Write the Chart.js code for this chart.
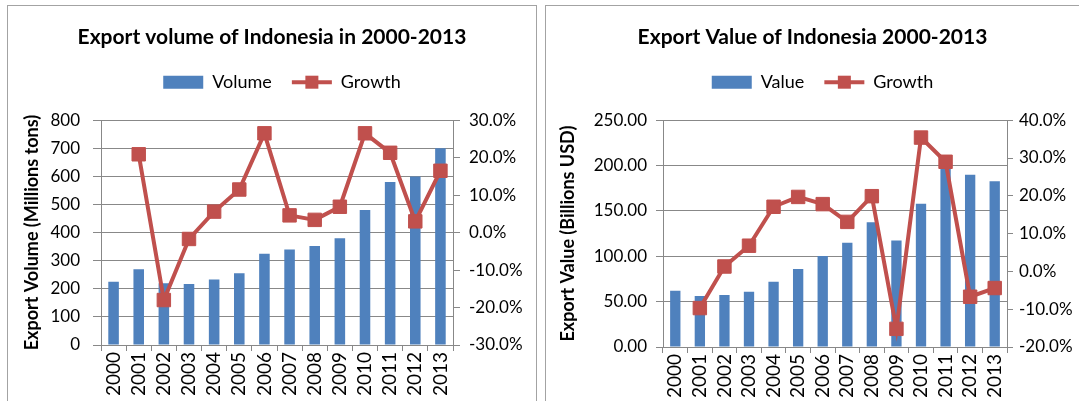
<!DOCTYPE html>
<html>
<head>
<meta charset="utf-8">
<script src="https://cdn.jsdelivr.net/npm/chart.js@4.4.1/dist/chart.umd.min.js"></script>
<style>
  body { margin: 0; background: #fff; overflow: hidden; }
  .panel {
    position: absolute;
    top: 5px;
    height: 420px;
    border: 1px solid #a3a3a3;
    border-bottom: none;
  }
  #leftPanel { left: 7px; width: 528px; }
  #rightPanel { left: 545px; width: 560px; border-right: none; }
  canvas { position: absolute; left: 0; top: 0; }
</style>
</head>
<body>
<div class="panel" id="leftPanel"><canvas id="volumeChart" width="528" height="395"></canvas></div>
<div class="panel" id="rightPanel"><canvas id="valueChart" width="533" height="395"></canvas></div>

<script>
// Data
const years = ["2000", "2001", "2002", "2003", "2004", "2005", "2006",
  "2007", "2008", "2009", "2010", "2011", "2012", "2013"];

// Export volume, millions of tons
const volume = [225, 270, 220, 217, 233, 255, 325, 340, 352, 380, 480, 580, 600, 700];
// Volume growth, percent
const volumeGrowth = [null, 20.9, -18.0, -1.7, 5.6, 11.5, 26.5, 4.6, 3.4, 6.9, 26.5, 21.3, 3.0, 16.5];

// Export value, billions USD
const exportValue = [62.1, 56.3, 57.4, 60.9, 71.9, 86.0, 100.3, 115.0, 137.5, 117.3, 158.0, 203.0, 190.0, 182.6];
// Value growth, percent
const valueGrowth = [null, -9.7, 1.3, 6.8, 17.1, 19.7, 17.8, 13.1, 19.9, -15.2, 35.4, 29.0, -6.7, -4.4];

const BAR_COLOR = "#4F81BD";
const LINE_COLOR = "#C0504D";
const GRID_COLOR = "#888888";

Chart.defaults.font.family = "Lato, 'Open Sans', sans-serif";
Chart.defaults.color = "#000";

// make room under the legend like the Excel plot area,
// and center the legend row without the trailing padding
const legendSpace = {
  id: "legendSpace",
  afterInit(chart, args, opts) {
    const fit = chart.legend.fit;
    chart.legend.fit = function () {
      fit.call(this);
      const pad = this.options.labels.padding;
      this.lineWidths = this.lineWidths.map((w) => w - pad);
      this.height += opts.extra || 0;
    };
  },
};

// draw the line + square marker for the "Growth" legend item
const lineLegend = {
  id: "lineLegend",
  afterDraw(chart) {
    const legend = chart.legend;
    if (!legend || !legend.legendHitBoxes) return;
    const box = legend.legendHitBoxes[1];
    const bw = legend.options.labels.boxWidth;
    const cy = box.top + box.height / 2;
    const ctx = chart.ctx;
    ctx.save();
    ctx.strokeStyle = LINE_COLOR;
    ctx.fillStyle = LINE_COLOR;
    ctx.lineWidth = 4;
    ctx.beginPath();
    ctx.moveTo(box.left, cy);
    ctx.lineTo(box.left + bw, cy);
    ctx.stroke();
    ctx.fillRect(box.left + bw / 2 - 6.5, cy - 6.5, 13, 13);
    ctx.restore();
  },
};

const buildChart = (id, cfg) => {
  return new Chart(document.getElementById(id), {
    type: "bar",
    data: {
      labels: years,
      datasets: [
        {
          type: "bar",
          label: cfg.barLabel,
          data: cfg.bars,
          backgroundColor: BAR_COLOR,
          barPercentage: 0.42,
          categoryPercentage: 1,
          yAxisID: "y",
          order: 2,
        },
        {
          type: "line",
          label: "Growth",
          data: cfg.growth,
          borderColor: LINE_COLOR,
          backgroundColor: LINE_COLOR,
          borderWidth: 4,
          tension: 0,
          pointStyle: "rect",
          pointRadius: 9.5,
          pointBorderWidth: 1,
          yAxisID: "y1",
          order: 1,
        },
      ],
    },
    options: {
      responsive: false,
      animation: false,
      devicePixelRatio: 1,
      layout: { padding: 0 },
      plugins: {
        tooltip: { enabled: false },
        title: {
          display: true,
          text: cfg.title,
          color: "#000",
          font: { size: 21, weight: "bold" },
          padding: { top: 19, bottom: 3 },
        },
        legend: {
          position: "top",
          labels: {
            font: { size: 18 },
            color: "#000",
            boxWidth: 40,
            boxHeight: 13,
            padding: 20,
            generateLabels: () => [
              { text: cfg.barLabel, fillStyle: BAR_COLOR, strokeStyle: BAR_COLOR, lineWidth: 0, datasetIndex: 0 },
              { text: "Growth", fillStyle: "rgba(0,0,0,0)", strokeStyle: "rgba(0,0,0,0)", lineWidth: 0, datasetIndex: 1 },
            ],
          },
        },
        legendSpace: { extra: 19 },
      },
      scales: {
        x: {
          grid: { offset: true, drawOnChartArea: false, tickLength: 6, color: GRID_COLOR },
          border: { color: GRID_COLOR },
          ticks: { minRotation: 90, maxRotation: 90, autoSkip: false, padding: 1, font: { size: 19 }, color: "#000" },
          afterFit: (s) => { s.height = cfg.bottomH; },
        },
        y: {
          position: "left",
          min: 0,
          max: cfg.barMax,
          grid: { color: GRID_COLOR, tickLength: cfg.leftTick },
          border: { color: GRID_COLOR },
          ticks: {
            stepSize: cfg.barStep,
            padding: cfg.leftPad,
            font: { size: 17 },
            color: "#000",
            callback: (v) => v.toFixed(cfg.barDecimals),
          },
          title: {
            display: true,
            text: cfg.axisTitle,
            color: "#000",
            font: { size: 18, weight: "bold" },
            padding: { top: cfg.titlePad, bottom: 0 },
          },
          afterFit: (s) => { s.width = cfg.leftW; },
        },
        y1: {
          position: "right",
          min: cfg.growthMin,
          max: cfg.growthMax,
          grid: { drawOnChartArea: false, color: GRID_COLOR, tickLength: cfg.rightTick },
          border: { color: GRID_COLOR },
          ticks: {
            stepSize: 10,
            padding: cfg.rightPad,
            font: { size: 17 },
            color: "#000",
            callback: (v) => v.toFixed(1) + "%",
          },
          afterFit: (s) => { s.width = cfg.rightW; },
        },
      },
    },
    plugins: [legendSpace, lineLegend],
  });
};

// Render Charts
buildChart("volumeChart", {
  title: "Export volume of Indonesia in 2000-2013",
  barLabel: "Volume",
  axisTitle: "Export Volume (Millions tons)",
  bars: volume,
  growth: volumeGrowth,
  barMax: 800,
  barStep: 100,
  barDecimals: 0,
  growthMin: -30,
  growthMax: 30,
  leftW: 93,
  rightW: 83,
  bottomH: 56,
  leftTick: 8,
  leftPad: 13,
  rightTick: 7,
  rightPad: 9,
  titlePad: 13,
});

buildChart("valueChart", {
  title: "Export Value of Indonesia 2000-2013",
  barLabel: "Value",
  axisTitle: "Export Value (Billions USD)",
  bars: exportValue,
  growth: valueGrowth,
  barMax: 250,
  barStep: 50,
  barDecimals: 2,
  growthMin: -20,
  growthMax: 40,
  leftW: 117,
  rightW: 72,
  bottomH: 54,
  leftTick: 7,
  leftPad: 9,
  rightTick: 6,
  rightPad: 6,
  titlePad: 11,
});
</script>
</body>
</html>
